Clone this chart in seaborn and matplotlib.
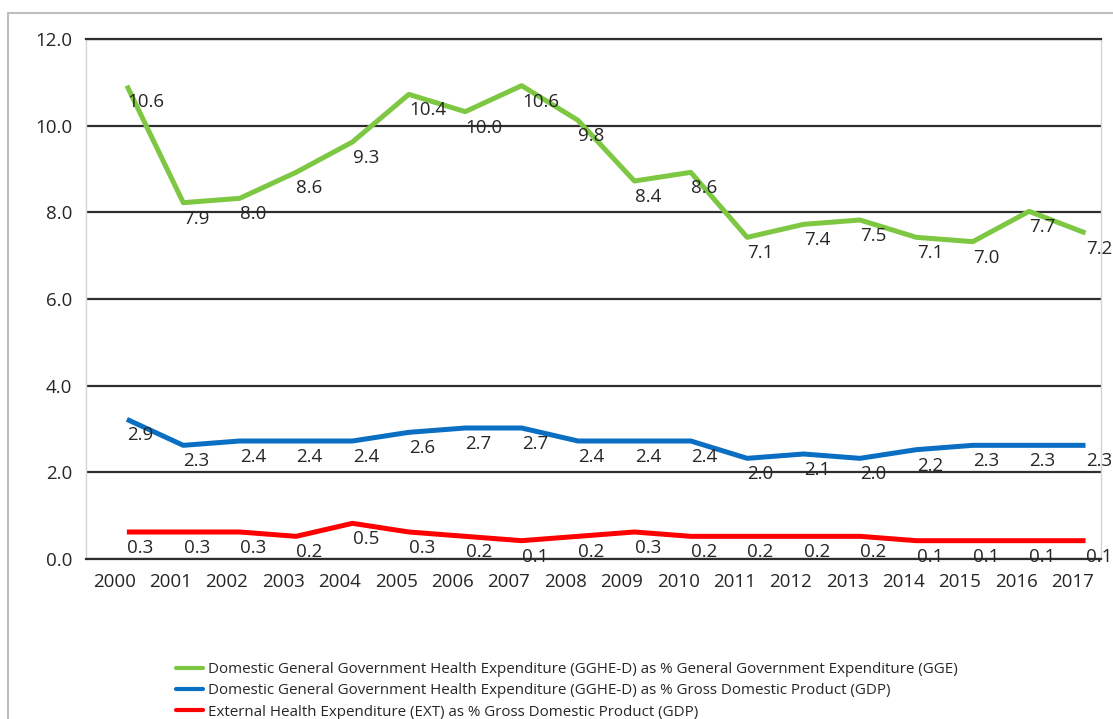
import pandas as pd
import matplotlib
matplotlib.use("Agg")
import matplotlib.pyplot as plt
import matplotlib.transforms as mtransforms
from matplotlib.lines import Line2D
import seaborn as sns

# data (values as shown in the data labels)
years = list(range(2000, 2018))
gge_share = [10.6, 7.9, 8.0, 8.6, 9.3, 10.4, 10.0, 10.6, 9.8, 8.4, 8.6, 7.1, 7.4, 7.5, 7.1, 7.0, 7.7, 7.2]
gdp_share = [2.9, 2.3, 2.4, 2.4, 2.4, 2.6, 2.7, 2.7, 2.4, 2.4, 2.4, 2.0, 2.1, 2.0, 2.2, 2.3, 2.3, 2.3]
ext_share = [0.3, 0.3, 0.3, 0.2, 0.5, 0.3, 0.2, 0.1, 0.2, 0.3, 0.2, 0.2, 0.2, 0.2, 0.1, 0.1, 0.1, 0.1]

series_names = [
    "Domestic General Government Health Expenditure (GGHE-D) as % General Government Expenditure (GGE)",
    "Domestic General Government Health Expenditure (GGHE-D) as % Gross Domestic Product (GDP)",
    "External Health Expenditure (EXT) as % Gross Domestic Product (GDP)",
]
colors = ["#7dc742", "#0a6fc2", "#ff0000"]

df = pd.concat([
    pd.DataFrame({"Year": years, "Value": vals, "Series": name})
    for vals, name in zip([gge_share, gdp_share, ext_share], series_names)
])

sns.set_style("white")
plt.rcParams["font.family"] = ["Open Sans", "DejaVu Sans"]

fig = plt.figure(figsize=(11.13, 7.19), dpi=100)
ax = fig.add_axes([86 / 1113, 1 - 559 / 719, 1015 / 1113, 520 / 719])

sns.lineplot(data=df, x="Year", y="Value", hue="Series", palette=colors,
             linewidth=3.6, legend=False, ax=ax, zorder=3)

# the lines sit a little up and right of the labelled points in the original
shift = mtransforms.ScaledTranslation(12.7 / 100, 14 / 100, fig.dpi_scale_trans)
for ln in ax.lines:
    ln.set_transform(ax.transData + shift)
    ln.set_solid_capstyle("butt")

# data labels
for vals in [gge_share, gdp_share, ext_share]:
    for x, v in zip(years, vals):
        ax.annotate(f"{v:.1f}", xy=(x, v), xytext=(13, -2), textcoords="offset pixels",
                    ha="left", va="center", fontsize=13.5, color="#262626",
                    annotation_clip=False, zorder=4)

ax.set_xlim(years[0] - 0.5, years[-1] + 0.5)
ax.set_ylim(0, 12)
ax.set_xticks(years)
ax.set_xticklabels([str(y) for y in years])
ax.set_yticks([0, 2, 4, 6, 8, 10, 12])
ax.set_yticklabels([f"{t:.1f}" for t in [0, 2, 4, 6, 8, 10, 12]])
ax.tick_params(axis="y", length=0, pad=10, labelsize=13.5, labelcolor="#262626")
ax.tick_params(axis="x", length=0, pad=10, labelsize=13.5, labelcolor="#262626")
ax.set_xlabel("")
ax.set_ylabel("")

ax.yaxis.grid(True, color="#2e2e2e", linewidth=1.6)
ax.set_axisbelow(True)
for side in ["top", "bottom"]:
    ax.spines[side].set_color("#2e2e2e")
    ax.spines[side].set_linewidth(1.6)
for side in ["left", "right"]:
    ax.spines[side].set_color("#d4d4d4")
    ax.spines[side].set_linewidth(1.0)

# legend below the plot
handles = [Line2D([0], [0], color=c, linewidth=3) for c in colors]
fig.legend(handles, series_names, loc="upper left",
           bbox_to_anchor=(170 / 1113, 1 - 656 / 719), frameon=False,
           fontsize=10.9, handlelength=1.75, handletextpad=0.35, labelspacing=0.42,
           borderaxespad=0)

# outer chart frame
fig.add_artist(Line2D([8 / 1113, 8 / 1113], [0, 1 - 13 / 719], color="#bdbdbd", linewidth=1.5))
fig.add_artist(Line2D([8 / 1113, 1], [1 - 13 / 719, 1 - 13 / 719], color="#bdbdbd", linewidth=1.5))

fig.savefig("out.png", dpi=100)
